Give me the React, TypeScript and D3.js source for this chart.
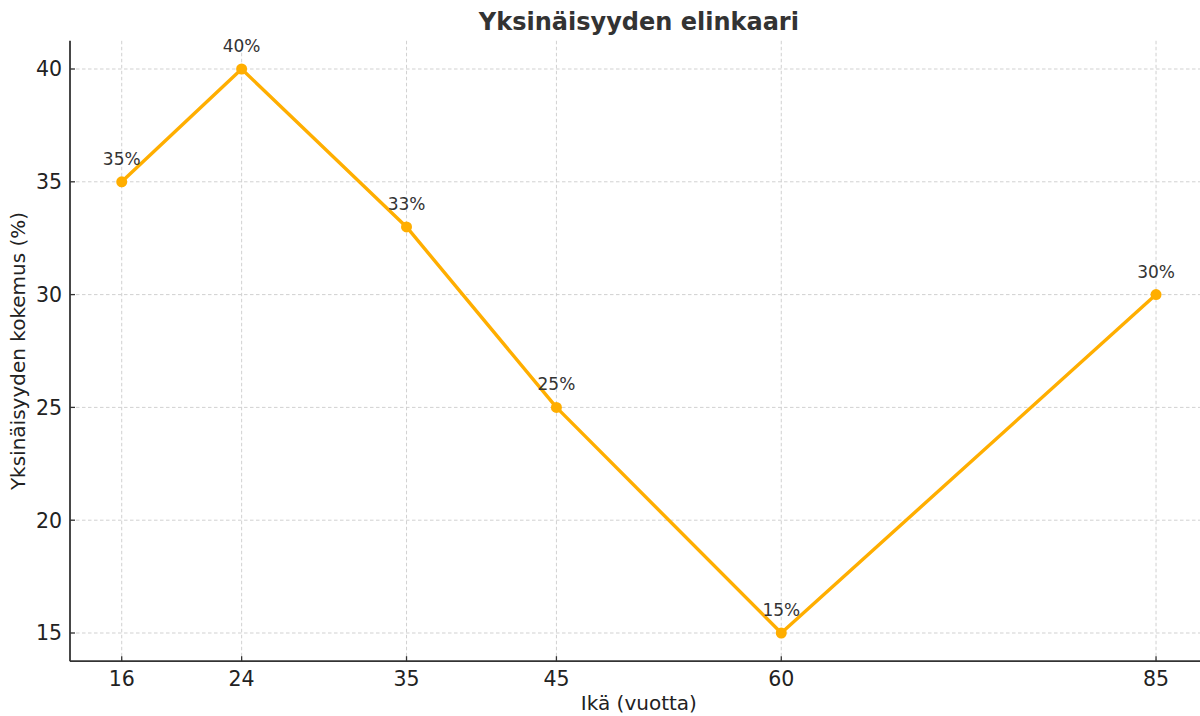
import React from "react";
import * as d3 from "d3";

const ages = [16, 24, 35, 45, 60, 85];
const loneliness = [35, 40, 33, 25, 15, 30];
const yTicks = [15, 20, 25, 30, 35, 40];
const title = "Yksinäisyyden elinkaari";
const xLabel = "Ikä (vuotta)";
const yLabel = "Yksinäisyyden kokemus (%)";

const W = 1200;
const H = 716;
const left = 70;
const right = 1207.75;
const top = 40.8;
const bottom = 661.2;
const font = "'DejaVu Sans', sans-serif";
const textColor = "#333333";
const lineColor = "#FFAE00";

export default function App() {
  const x = d3.scaleLinear().domain([12.55, 88.45]).range([left, right]);
  const y = d3.scaleLinear().domain([13.75, 41.25]).range([bottom, top]);
  const pts = ages.map((a, i) => [a, loneliness[i]] as [number, number]);
  const line = d3
    .line<[number, number]>()
    .x((d) => x(d[0]))
    .y((d) => y(d[1]));

  return (
    <svg
      width={W}
      height={H}
      style={{ position: "absolute", left: 0, top: 0, background: "#fff" }}
      fontFamily={font}
    >
      <rect width={W} height={H} fill="#fff" />
      {/* grid */}
      <g stroke="#cccccc" strokeWidth={0.9} strokeDasharray="3.5,2.5">
        {ages.map((a) => (
          <line key={"gx" + a} x1={x(a)} x2={x(a)} y1={top} y2={bottom} />
        ))}
        {yTicks.map((t) => (
          <line key={"gy" + t} x1={left} x2={right} y1={y(t)} y2={y(t)} />
        ))}
      </g>
      {/* series */}
      <path d={line(pts) || ""} fill="none" stroke={lineColor} strokeWidth={3.4} strokeLinejoin="round" />
      {pts.map((p, i) => (
        <circle key={"c" + i} cx={x(p[0])} cy={y(p[1])} r={5.5} fill={lineColor} />
      ))}
      {pts.map((p, i) => (
        <text
          key={"l" + i}
          x={x(p[0])}
          y={y(p[1]) - 17}
          textAnchor="middle"
          fontSize={17}
          fill={textColor}
        >
          {p[1] + "%"}
        </text>
      ))}
      {/* axes */}
      <g stroke="#333" strokeWidth={1.8}>
        <line x1={left} x2={left} y1={top} y2={bottom} />
        <line x1={left} x2={right} y1={bottom} y2={bottom} />
        {yTicks.map((t) => (
          <line key={"ty" + t} x1={left} x2={left + 5} y1={y(t)} y2={y(t)} strokeWidth={1.3} />
        ))}
        {ages.map((a) => (
          <line key={"tx" + a} x1={x(a)} x2={x(a)} y1={bottom} y2={bottom - 5} strokeWidth={1.3} />
        ))}
      </g>
      {yTicks.map((t) => (
        <text
          key={"yl" + t}
          x={left - 8}
          y={y(t)}
          dy="0.36em"
          textAnchor="end"
          fontSize={20.5}
          fill="#222"
        >
          {t}
        </text>
      ))}
      {ages.map((a) => (
        <text key={"xl" + a} x={x(a)} y={bottom + 25} textAnchor="middle" fontSize={20.5} fill="#222">
          {a}
        </text>
      ))}
      <text x={(left + right) / 2} y={30} textAnchor="middle" fontSize={24} fontWeight="bold" fill={textColor}>
        {title}
      </text>
      <text x={(left + right) / 2} y={710} textAnchor="middle" fontSize={20} fill="#222">
        {xLabel}
      </text>
      <text
        transform={`translate(25,${(top + bottom) / 2}) rotate(-90)`}
        textAnchor="middle"
        fontSize={20}
        fill="#222"
      >
        {yLabel}
      </text>
    </svg>
  );
}
